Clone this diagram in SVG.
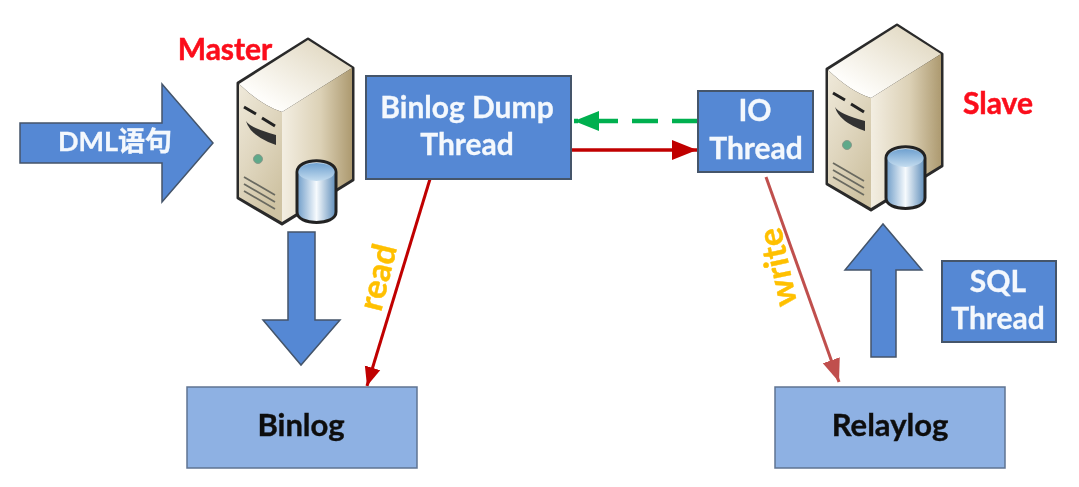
<svg xmlns="http://www.w3.org/2000/svg" width="1079" height="487" viewBox="0 0 1079 487">
<style>
text{font-family:"Lato","Carlito","Liberation Sans",sans-serif;font-weight:700;text-anchor:middle}
.w{fill:#f4f8fd;font-size:30px;stroke:#f4f8fd;stroke-width:.3}
.k{fill:#111;font-size:31px;stroke:#111;stroke-width:.4}
.r{fill:#fb0d1b;font-size:30px;stroke:#fb0d1b;stroke-width:.5}
.y{fill:#ffc000;font-size:34px;stroke:#ffc000;stroke-width:.4}
.b{fill:#5488d4;stroke:#44546a;stroke-width:2}
.l{fill:#8eb1e3;stroke:#5f7492;stroke-width:1.5}
.a{fill:#5488d4;stroke:#44546a;stroke-width:1.5}
</style>
<defs>
<filter id="soft" x="-5%" y="-5%" width="110%" height="110%"><feGaussianBlur stdDeviation="0.7"/></filter>
<linearGradient id="top" x1="0" y1="1" x2="1" y2="0"><stop offset="0.2" stop-color="#fefdfa"/><stop offset="1" stop-color="#dcd2b8"/></linearGradient>
<linearGradient id="front" x1="0" y1="0" x2="0.6" y2="1"><stop offset="0" stop-color="#efe9da"/><stop offset="0.5" stop-color="#e0d7c0"/><stop offset="1" stop-color="#cfc3a3"/></linearGradient>
<linearGradient id="side" x1="0" y1="0" x2="1" y2="0"><stop offset="0" stop-color="#f3eee2"/><stop offset="0.55" stop-color="#dcd1b6"/><stop offset="1" stop-color="#ad9a70"/></linearGradient>
<linearGradient id="cyl" x1="0" y1="0" x2="1" y2="0"><stop offset="0" stop-color="#6e9cc8"/><stop offset="0.5" stop-color="#f6fafd"/><stop offset="1" stop-color="#5d8cb9"/></linearGradient>
<linearGradient id="cylt" x1="0" y1="0" x2="0" y2="1"><stop offset="0" stop-color="#6fa1d0"/><stop offset="1" stop-color="#c4dcef"/></linearGradient>
<marker id="mr" markerUnits="userSpaceOnUse" markerWidth="26" markerHeight="22" refX="25" refY="11" orient="auto"><path d="M0 1L25 11L0 21Z" fill="#c00000"/></marker>
<marker id="mg" markerUnits="userSpaceOnUse" markerWidth="26" markerHeight="22" refX="25" refY="11" orient="auto"><path d="M0 1L25 11L0 21Z" fill="#00b050"/></marker>
<marker id="mrs" markerUnits="userSpaceOnUse" markerWidth="20" markerHeight="18" refX="19" refY="9" orient="auto"><path d="M0 1L19 9L0 17Z" fill="#c00000"/></marker>
<marker id="mw" markerUnits="userSpaceOnUse" markerWidth="24" markerHeight="20" refX="23" refY="10" orient="auto"><path d="M0 1L23 10L0 19Z" fill="#c0504d"/></marker>
<g id="srv">
<path d="M238 83L308 39L353 68V180L282 224L238 198Z" fill="#222" stroke="#2a2a2a" stroke-width="3" stroke-linejoin="round"/>
<path d="M239 84L308 40L352 68L282 112Q262 106 239 84Z" fill="url(#top)"/>
<path d="M239 84Q262 106 282 112V222L239 197Z" fill="url(#front)"/>
<path d="M282 112L352 68V179L282 222Z" fill="url(#side)"/>
<path d="M244 107L256 114M262 118L275 126" stroke="#222" stroke-width="3" fill="none"/>
<path d="M246 121Q250 128 276 135V145Q250 136 246 121Z" fill="#333"/>
<circle cx="258" cy="159" r="4.500" fill="#5ea98a" stroke="#8a9a8a"/>
<path d="M244 177L275 195M244 184L275 202M244 191L275 209" stroke="#6a6a60" stroke-width="1.8" fill="none"/>
<path d="M297 172C297 157 336 157 336 172V212C336 226 297 226 297 212Z" fill="url(#cyl)" stroke="#222" stroke-width="3"/>
<ellipse cx="316.500" cy="172" rx="18" ry="9" fill="url(#cylt)"/>
</g>
</defs>
<rect width="1079" height="487" fill="#fff"/>
<g filter="url(#soft)">
<g id="connectors" fill="none">
<path id="c-ack" d="M698 121H574" stroke="#00b050" stroke-width="4.500" stroke-dasharray="26 14" marker-end="url(#mg)"/>
<path id="c-send" d="M571 150H697" stroke="#c00000" stroke-width="3.500" marker-end="url(#mr)"/>
<path id="c-read" d="M430 179L367 386" stroke="#c00000" stroke-width="3" marker-end="url(#mrs)"/>
<path id="c-write" d="M766 177L839 382" stroke="#c0504d" stroke-width="3" marker-end="url(#mw)"/>
</g>
<g id="dml"><path class="a" d="M20 123H162V84L213 143L162 202V163H20Z"/><text class="w" x="115" y="151" style="font-size:27px;font-family:Lato,'Noto Sans CJK SC',sans-serif">DML语句</text></g>
<g id="arrow-down"><path class="a" d="M288 232H315V320H340L301 365L263 320H288Z"/></g>
<g id="arrow-up"><path class="a" d="M871 357V270H845L883 224L922 270H896V357Z"/></g>
<g id="master"><use href="#srv"/><text class="r" x="225" y="60">Master</text></g>
<g id="slave"><use href="#srv" transform="translate(589 -14)"/><text class="r" x="998" y="114">Slave</text></g>
<g id="binlog-dump"><rect class="b" x="366" y="76" width="205" height="103"/><text class="w" x="467" y="118">Binlog Dump</text><text class="w" x="467" y="155">Thread</text></g>
<g id="io-thread"><rect class="b" x="698" y="91" width="115" height="81"/><text class="w" x="755" y="121">IO</text><text class="w" x="756" y="159">Thread</text></g>
<g id="sql-thread"><rect class="b" x="942" y="261" width="114" height="81"/><text class="w" x="998" y="292">SQL</text><text class="w" x="998" y="329">Thread</text></g>
<g id="binlog"><rect class="l" x="187" y="387" width="230" height="81"/><text class="k" x="301" y="436">Binlog</text></g>
<g id="relaylog"><rect class="l" x="775" y="387" width="230" height="81"/><text class="k" x="890" y="436">Relaylog</text></g>
<text class="y" transform="translate(389 280) rotate(-76)">read</text>
<text class="y" transform="translate(789 265) rotate(-102)">write</text>
</g>
</svg>
